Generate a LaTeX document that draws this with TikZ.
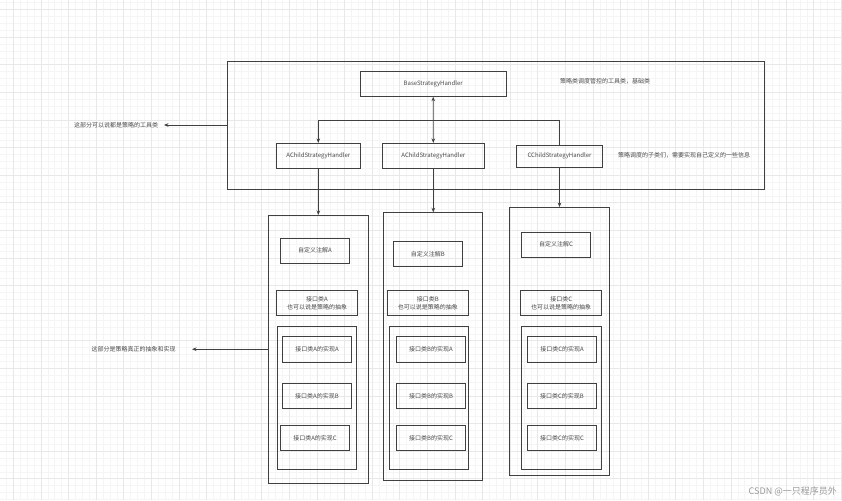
\documentclass[tikz,border=0pt]{standalone}
\usepackage{fontspec}
\setmainfont{Noto Sans CJK SC}
\usetikzlibrary{arrows.meta}
\definecolor{lc}{HTML}{404040}
\definecolor{tc}{HTML}{4A4A4A}
\definecolor{gmin}{HTML}{F5F5F5}
\definecolor{gmaj}{HTML}{E8E8E8}
\tikzset{
  box/.style={draw=lc, line width=0.75pt, inner sep=0pt, align=center, text=tc,
    font=\fontsize{6}{8}\selectfont},
  lbl/.style={inner sep=0pt, text=tc, font=\fontsize{6}{8}\selectfont},
  conn/.style={draw=lc, line width=0.75pt},
  arr/.style={conn, -{Stealth[length=4.5pt,width=3.6pt]}},
  biarr/.style={conn, {Stealth[length=4.5pt,width=3.6pt]}-{Stealth[length=4.5pt,width=3.6pt]}},
  minorgrid/.style={draw=gmin, line width=0.5pt},
  majorgrid/.style={draw=gmaj, line width=0.6pt}
}
\begin{document}
\begin{tikzpicture}[x=1pt,y=-1pt]
\useasboundingbox (0,0) rectangle (842,500);
\fill[white] (0,0) rectangle (842,500);
% background grid
\foreach \k in {0,...,126} \draw[minorgrid] ({-14.3+6.9*\k},0) -- ({-14.3+6.9*\k},500);
\foreach \k in {0,...,76} \draw[minorgrid] (0,{-18.1+6.9*\k}) -- (842,{-18.1+6.9*\k});
\foreach \k in {0,...,31} \draw[majorgrid] ({-14.3+27.6*\k},0) -- ({-14.3+27.6*\k},500);
\foreach \k in {0,...,19} \draw[majorgrid] (0,{-18.1+27.6*\k}) -- (842,{-18.1+27.6*\k});

% top container
\node[box, minimum width=537pt, minimum height=128pt] (outer) at (495.8,125) {};
\node[box, minimum width=145.7pt, minimum height=25.3pt] (base) at (433.2,83.7) {BaseStrategyHandler};
\node[box, minimum width=84.7pt, minimum height=25pt] (achild) at (318.3,155.8) {AChildStrategyHandler};
\node[box, minimum width=102pt, minimum height=25pt] (bchild) at (433.3,155.8) {AChildStrategyHandler};
\node[box, minimum width=85.6pt, minimum height=22pt] (cchild) at (559.5,156) {CChildStrategyHandler};
\node[lbl] (t1) at (605,81) {策略类调度管控的工具类，基础类};
\node[lbl] (t2) at (684,155.5) {策略调度的子类们，需要实现自己定义的一些信息};

% columns
\node[box, minimum width=100.4pt, minimum height=267.7pt] (colA) at (318.5,349.2) {};
\node[box, minimum width=99.4pt, minimum height=267.3pt] (colB) at (433,346.3) {};
\node[box, minimum width=99.6pt, minimum height=267.5pt] (colC) at (559.5,341.2) {};

\node[box, minimum width=68.6pt, minimum height=25pt] (annA) at (315,250.5) {自定义注解A};
\node[box, minimum width=69pt, minimum height=25.4pt] (annB) at (427.8,254) {自定义注解B};
\node[box, minimum width=69.4pt, minimum height=25pt] (annC) at (556,244.5) {自定义注解C};

\node[box, minimum width=80.6pt, minimum height=25pt] (ifA) at (317,302.8) {接口类A\\也可以说是策略的抽象};
\node[box, minimum width=81pt, minimum height=25pt] (ifB) at (427.8,302.8) {接口类B\\也可以说是策略的抽象};
\node[box, minimum width=81pt, minimum height=25pt] (ifC) at (561.2,302.8) {接口类C\\也可以说是策略的抽象};

\node[box, minimum width=79.4pt, minimum height=143pt] (inA) at (317,397.5) {};
\node[box, minimum width=79.4pt, minimum height=143pt] (inB) at (429,397.5) {};
\node[box, minimum width=79.3pt, minimum height=143pt] (inC) at (561.4,397.5) {};

\node[box, minimum width=69.4pt, minimum height=25.6pt] (a1) at (317,349.5) {接口类A的实现A};
\node[box, minimum width=69.4pt, minimum height=25pt] (a2) at (317,395.8) {接口类A的实现B};
\node[box, minimum width=69.4pt, minimum height=25.4pt] (a3) at (315,438) {接口类A的实现C};
\node[box, minimum width=69.4pt, minimum height=25.6pt] (b1) at (431,349.5) {接口类B的实现A};
\node[box, minimum width=69.4pt, minimum height=25pt] (b2) at (431,395.8) {接口类B的实现B};
\node[box, minimum width=69.4pt, minimum height=25.4pt] (b3) at (431,438) {接口类B的实现C};
\node[box, minimum width=69.4pt, minimum height=25.6pt] (c1) at (562,349.5) {接口类C的实现A};
\node[box, minimum width=69.4pt, minimum height=25pt] (c2) at (562,395.8) {接口类C的实现B};
\node[box, minimum width=69.4pt, minimum height=25.4pt] (c3) at (562,438) {接口类C的实现C};

% left notes
\node[lbl] (l1) at (116,125.3) {这部分可以说都是策略的工具类};
\node[lbl] (l2) at (133.5,349.3) {这部分是策略真正的抽象和实现};
\coordinate (l1e) at (164,125);
\coordinate (l2e) at (192,349.2);
\draw[arr] (outer.west) -- (l1e);
\draw[arr] (colA.west) -- (l2e);

% connectors
\coordinate (j) at (433.2,120.3);
\draw[biarr] (base) -- (bchild);
\draw[arr] (j) -| (achild.north);
\draw[conn] (j) -| (cchild.north);
\draw[arr] (achild.south) -- (achild.south |- colA.north);
\draw[arr] (bchild.south) -- (bchild.south |- colB.north);
\draw[arr] (cchild.south) -- (cchild.south |- colC.north);

% watermark
\node[inner sep=0pt, anchor=east, text=gray!80, font=\fontsize{9}{10}\selectfont] (wm) at (837,491) {CSDN @一只程序员外};
\end{tikzpicture}
\end{document}
